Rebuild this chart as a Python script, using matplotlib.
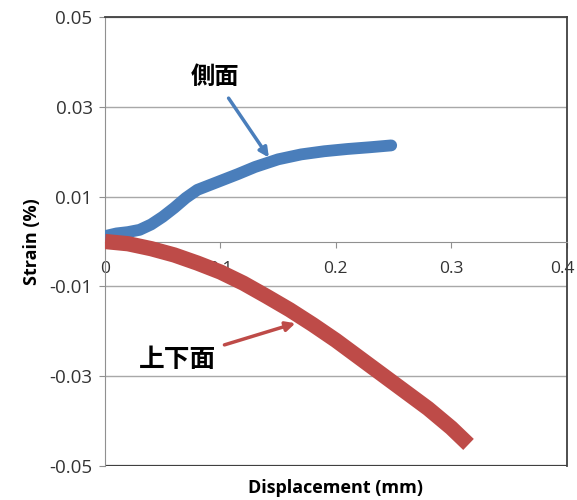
import matplotlib
matplotlib.use('Agg')
import matplotlib.pyplot as plt
import matplotlib.transforms as mtransforms

plt.rcParams['font.family'] = ['Open Sans', 'Noto Sans CJK JP', 'DejaVu Sans']

# side face (blue) and top/bottom face (red)
side_x = [0, 0.01, 0.02, 0.03, 0.04, 0.05, 0.06, 0.07, 0.08, 0.09, 0.1, 0.115, 0.13,
          0.15, 0.17, 0.19, 0.21, 0.23, 0.248]
side_y = [0.0012, 0.0018, 0.0021, 0.0026, 0.0038, 0.0055, 0.0075, 0.0097, 0.0115, 0.0125,
          0.0135, 0.015, 0.0166, 0.0183, 0.0194, 0.0201, 0.0206, 0.021, 0.0214]
tb_x = [0, 0.02, 0.04, 0.06, 0.08, 0.1, 0.12, 0.14, 0.16, 0.18, 0.2, 0.22, 0.24, 0.26,
        0.28, 0.3, 0.315]
tb_y = [0, -0.0005, -0.0016, -0.003, -0.0048, -0.0068, -0.0093, -0.0122, -0.0152, -0.0185,
        -0.022, -0.0258, -0.0296, -0.0334, -0.0372, -0.0415, -0.0452]

xticks = [0, 0.1, 0.2, 0.3, 0.4]
xlabels = ['0', '0.1', '0.2', '0.3', '0.4']
yticks = [-0.05, -0.03, -0.01, 0.01, 0.03, 0.05]
ylabels = ['-0.05', '-0.03', '-0.01', '0.01', '0.03', '0.05']

fig = plt.figure(figsize=(5.77, 5.0), dpi=100)
ax = fig.add_axes([0.182, 0.068, 0.8, 0.898])

ax.set_xlim(0, 0.4)
ax.set_ylim(-0.05, 0.05)

for y in yticks:
    ax.axhline(y, color='#a8a8a8', linewidth=1, zorder=0)

ax.plot(side_x, side_y, color='#4a7ebb', linewidth=8.5, solid_capstyle='round',
        solid_joinstyle='round', zorder=3)
ax.plot(tb_x, tb_y, color='#be4b48', linewidth=11, solid_capstyle='butt',
        solid_joinstyle='round', zorder=3)

# x axis through zero, dark frame round the plot area
ax.spines['bottom'].set_position(('data', 0))
ax.spines['bottom'].set_color('#909090')
ax.spines['left'].set_color('#909090')
ax.spines['top'].set_color('#404040')
ax.spines['right'].set_color('#404040')
ax.spines['top'].set_linewidth(1.3)
ax.spines['right'].set_linewidth(1.3)
ax.axhline(-0.05, color='#404040', linewidth=1.6, zorder=1)

ax.set_xticks(xticks)
ax.set_xticklabels(xlabels)
ax.set_yticks(yticks)
ax.set_yticklabels(ylabels)
ax.tick_params(axis='x', direction='out', length=4, pad=10, labelsize=12.5,
               colors='#909090', labelcolor='#333333')
ax.tick_params(axis='y', direction='out', length=4, pad=5, labelsize=13.5,
               colors='#909090', labelcolor='#333333')
# keep the last x label inside the picture
last = ax.get_xticklabels()[-1]
last.set_transform(last.get_transform() +
                   mtransforms.ScaledTranslation(-3 / 72, 0, fig.dpi_scale_trans))

ax.set_ylabel('Strain (%)', fontsize=13, fontweight='bold', labelpad=6)
ax.text(0.5, -0.05, 'Displacement (mm)', transform=ax.transAxes, ha='center', va='center',
        fontsize=13, fontweight='bold')

ax.annotate('側面', xy=(0.142, 0.0187), xytext=(0.095, 0.0365),
            fontsize=17.5, fontweight='bold', ha='center', va='center',
            arrowprops=dict(arrowstyle='-|>', color='#4a7ebb', lw=2.5, mutation_scale=14,
                            shrinkA=5, shrinkB=0))
ax.annotate('上下面', xy=(0.165, -0.0182), xytext=(0.063, -0.0262),
            fontsize=18.5, fontweight='bold', ha='center', va='center',
            arrowprops=dict(arrowstyle='-|>', color='#be4b48', lw=2.5, mutation_scale=14,
                            shrinkA=4, shrinkB=0))

plt.savefig('out.png', dpi=100)
